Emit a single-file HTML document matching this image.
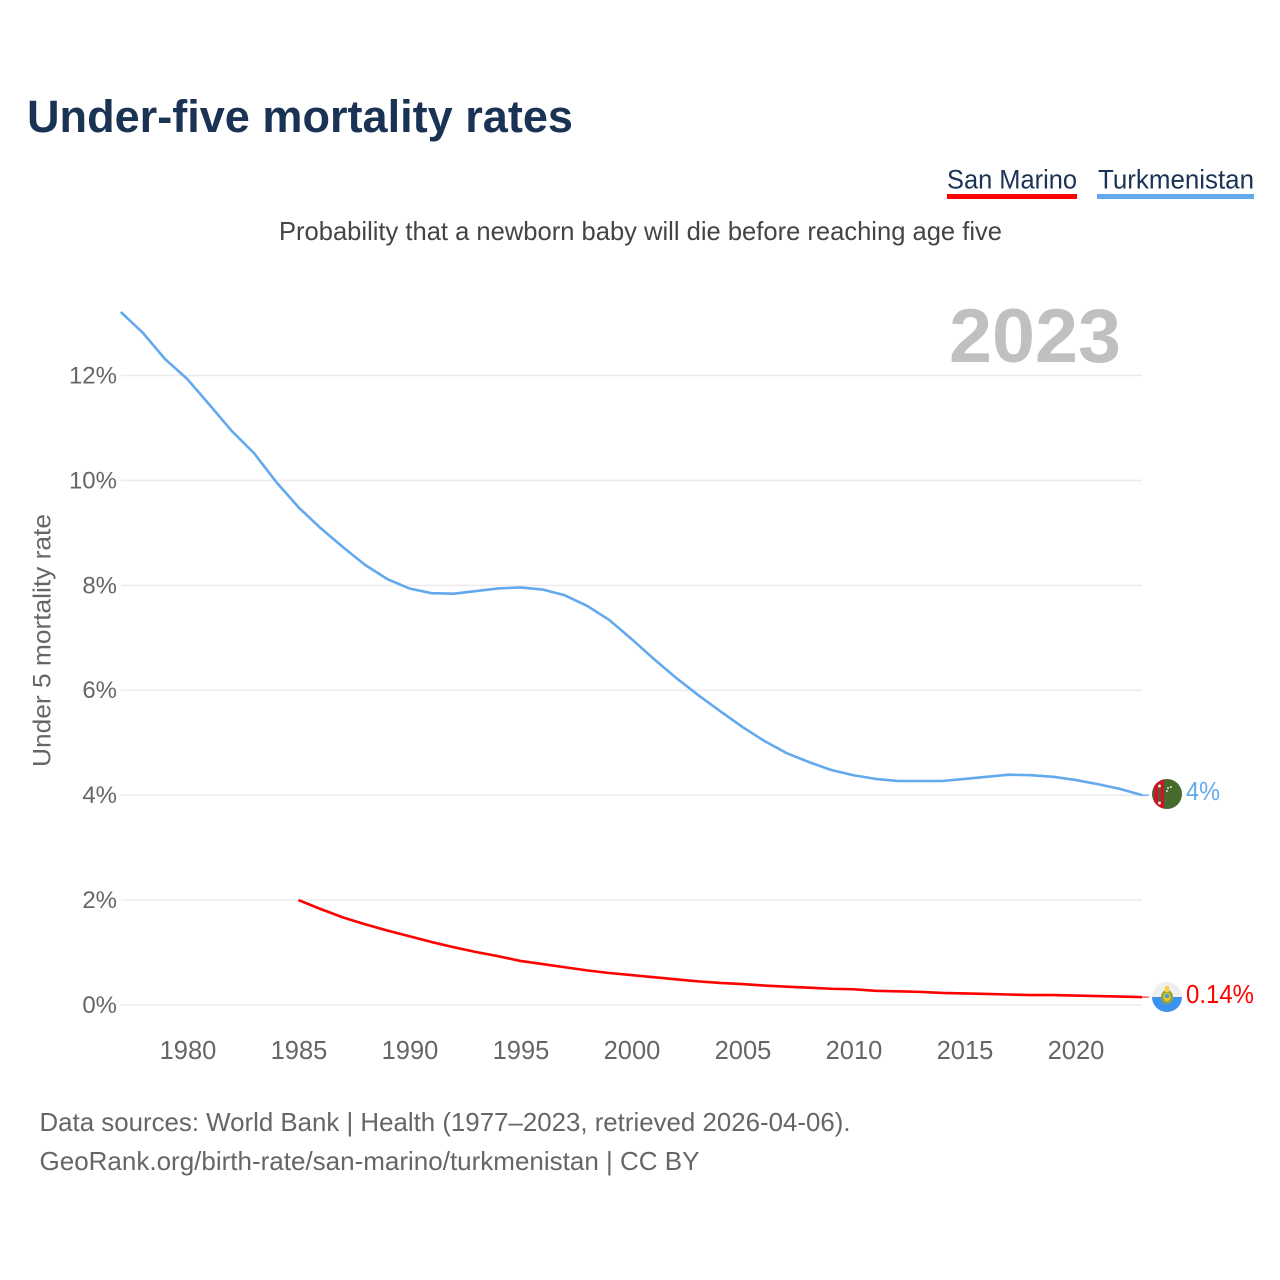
<!DOCTYPE html>
<html lang="en">
<head>
<meta charset="utf-8">
<title>Under-five mortality rates</title>
<style>
html,body{margin:0;padding:0;background:#fff;width:1280px;height:1280px;overflow:hidden}
svg{display:block;font-family:"Liberation Sans",sans-serif}
</style>
</head>
<body>
<svg id="chart" xmlns="http://www.w3.org/2000/svg" width="1280" height="1280" viewBox="0 0 1280 1280">
  <defs>
    <clipPath id="flag-clip-a"><circle cx="1167" cy="794" r="15"/></clipPath>
    <clipPath id="flag-clip-b"><circle cx="1167" cy="997" r="15"/></clipPath>
  </defs>
  <rect x="0" y="0" width="1280" height="1280" fill="#fff"/>
  <text x="27" y="132" font-size="45" font-weight="700" fill="#1a3254" textLength="546" lengthAdjust="spacingAndGlyphs">Under-five mortality rates</text>

  <g>
    <text x="947" y="188.5" font-size="27" fill="#1a3254" textLength="130" lengthAdjust="spacingAndGlyphs">San Marino</text>
    <rect x="947" y="194" width="130" height="5" fill="#ff0000"/>
  </g>
  <g>
    <text x="1098" y="188.5" font-size="27" fill="#1a3254" textLength="156" lengthAdjust="spacingAndGlyphs">Turkmenistan</text>
    <rect x="1097" y="194" width="157" height="5" fill="#63a9ee"/>
  </g>

  <text x="279" y="240" font-size="26" fill="#444" textLength="723" lengthAdjust="spacingAndGlyphs">Probability that a newborn baby will die before reaching age five</text>
  <text x="949" y="362" font-size="76" font-weight="700" fill="#c0c0c0" textLength="172" lengthAdjust="spacingAndGlyphs">2023</text>
  <text transform="translate(50.5 767) rotate(-90)" x="0" y="0" font-size="25" fill="#666" textLength="253" lengthAdjust="spacingAndGlyphs">Under 5 mortality rate</text>

  <g id="grid"></g>
  <g id="y-ticks"></g>
  <g id="x-ticks"></g>
  <g id="series"></g>

  <g clip-path="url(#flag-clip-a)">
    <rect x="1152" y="779" width="30" height="30" fill="#476b2c"/>
    <rect x="1154" y="779" width="10" height="30" fill="#d2112f"/>
    <rect x="1158" y="784" width="3" height="20" fill="#5a5a2a"/>
    <circle cx="1159.5" cy="786" r="1.5" fill="#f5e6c0"/>
    <circle cx="1159.5" cy="803" r="1.5" fill="#f5e6c0"/>
    <path d="M1175 787a5 5 0 0 1-6 6a5 5 0 0 0 6-6z" fill="#e8ecd8"/>
    <circle cx="1168" cy="788" r="1" fill="#dfe6cf"/>
    <circle cx="1171" cy="787" r="1" fill="#dfe6cf"/>
    <circle cx="1167" cy="791" r="1" fill="#dfe6cf"/>
  </g>
  <g clip-path="url(#flag-clip-b)">
    <rect x="1152" y="982" width="30" height="15" fill="#efefef"/>
    <rect x="1152" y="997" width="30" height="15" fill="#3c92ee"/>
    <ellipse cx="1167" cy="997" rx="6" ry="7" fill="#8ea83c"/>
    <ellipse cx="1167" cy="997" rx="3.5" ry="4.5" fill="#f2c230"/>
    <circle cx="1167" cy="996" r="2.2" fill="#4a9bd8"/>
    <rect x="1165" y="986" width="4" height="6" fill="#f8cf3c"/>
  </g>

  <text id="label-turkmenistan" x="1186" y="800" font-size="26" fill="#63a9ee" textLength="34" lengthAdjust="spacingAndGlyphs">4%</text>
  <text id="label-san-marino" x="1186" y="1003" font-size="26" fill="#ff0000" textLength="68" lengthAdjust="spacingAndGlyphs">0.14%</text>

  <text x="39.5" y="1131" font-size="26" fill="#666" textLength="811" lengthAdjust="spacingAndGlyphs">Data sources: World Bank | Health (1977–2023, retrieved 2026-04-06).</text>
  <text x="39.5" y="1170" font-size="26" fill="#666" textLength="660" lengthAdjust="spacingAndGlyphs">GeoRank.org/birth-rate/san-marino/turkmenistan | CC BY</text>
</svg>
<script>
const yTickValues = [0, 2, 4, 6, 8, 10, 12];
const xTickYears = [1980, 1985, 1990, 1995, 2000, 2005, 2010, 2015, 2020];
const turkmenistanStart = 1977;
const turkmenistanValues = [13.21, 12.81, 12.31, 11.93, 11.44, 10.94, 10.52, 9.97, 9.49, 9.09,
  8.73, 8.39, 8.12, 7.94, 7.85, 7.84, 7.89, 7.94, 7.96, 7.92,
  7.81, 7.61, 7.34, 6.98, 6.6, 6.24, 5.91, 5.6, 5.3, 5.03,
  4.8, 4.63, 4.48, 4.38, 4.31, 4.27, 4.27, 4.27, 4.31, 4.35,
  4.39, 4.38, 4.35, 4.29, 4.21, 4.12, 4.0];
const sanMarinoStart = 1985;
const sanMarinoValues = [2.0, 1.83, 1.67, 1.54, 1.42, 1.31, 1.2, 1.1, 1.01, 0.93,
  0.84, 0.78, 0.72, 0.66, 0.61, 0.57, 0.53, 0.49, 0.45, 0.42,
  0.40, 0.37, 0.35, 0.33, 0.31, 0.30, 0.27, 0.26, 0.25, 0.23,
  0.22, 0.21, 0.20, 0.19, 0.19, 0.18, 0.17, 0.16, 0.15];

const NS = 'http://www.w3.org/2000/svg';
function xScale(year) { return 187.4 + (year - 1980) * 22.2; }
function yScale(value) { return 1005 - value * 52.46; }
function seriesPoints(start, values) {
  return values.map(function (v, i) { return xScale(start + i).toFixed(2) + ',' + yScale(v).toFixed(2); }).join(' ');
}
function make(tag, attrs, text) {
  const el = document.createElementNS(NS, tag);
  Object.keys(attrs).forEach(function (k) { el.setAttribute(k, attrs[k]); });
  if (text !== undefined) el.textContent = text;
  return el;
}

const grid = document.getElementById('grid');
const yTicks = document.getElementById('y-ticks');
yTickValues.forEach(function (v) {
  const line = make('line', { x1: 121, x2: 1142, y1: yScale(v), y2: yScale(v), stroke: '#ebebeb', 'stroke-width': 1.5 });
  
  
  grid.appendChild(line);
  const label = make('text', { x: 117, y: yScale(v) + 8, 'text-anchor': 'end', 'font-size': 24, fill: '#666' }, v + '%');
  
  
  yTicks.appendChild(label);
});

const xTicks = document.getElementById('x-ticks');
xTickYears.forEach(function (year) {
  const label = make('text', { x: xScale(year) + 0.6, y: 1059, 'text-anchor': 'middle', 'font-size': 25.5, fill: '#666' }, String(year));
  
  
  xTicks.appendChild(label);
});

const seriesGroup = document.getElementById('series');

const blueLine = make('polyline', { points: seriesPoints(turkmenistanStart, turkmenistanValues), fill: 'none', stroke: '#63a9ee', 'stroke-width': 2.6, 'stroke-linejoin': 'round' });


seriesGroup.appendChild(blueLine);

const blueLast = turkmenistanValues[turkmenistanValues.length - 1];
const blueTail = make('line', { x1: xScale(2023), x2: xScale(2023) + 7, y1: yScale(blueLast), y2: yScale(blueLast), stroke: '#63a9ee', 'stroke-width': 1.4 });


seriesGroup.appendChild(blueTail);

const redLine = make('polyline', { points: seriesPoints(sanMarinoStart, sanMarinoValues), fill: 'none', stroke: '#ff0000', 'stroke-width': 2.6, 'stroke-linejoin': 'round' });


seriesGroup.appendChild(redLine);

const redLast = sanMarinoValues[sanMarinoValues.length - 1];
const redTail = make('line', { x1: xScale(2023), x2: xScale(2023) + 7, y1: yScale(redLast), y2: yScale(redLast), stroke: '#ff5050', 'stroke-width': 1.4 });


seriesGroup.appendChild(redTail);
</script>
</body>
</html>
